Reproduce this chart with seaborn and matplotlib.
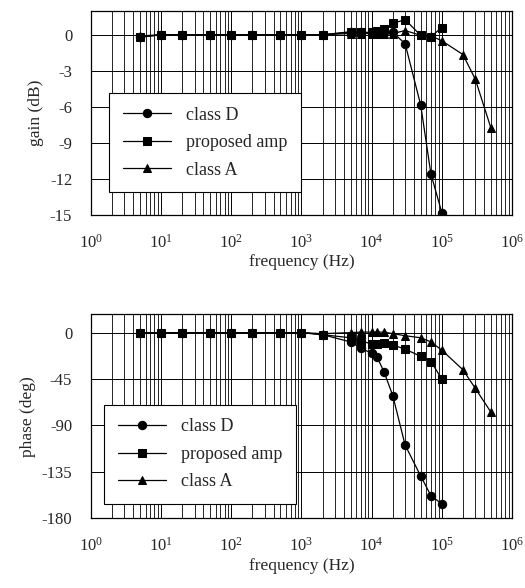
import numpy as np
import pandas as pd
import matplotlib
matplotlib.use("Agg")
import matplotlib.pyplot as plt
import seaborn as sns
from matplotlib.ticker import LogLocator, NullFormatter, FixedLocator

# measured frequencies (Hz)
freq = [5, 10, 20, 50, 100, 200, 500, 1e3, 2e3, 5e3, 7e3, 1e4, 1.2e4, 1.5e4,
        2e4, 3e4, 5e4, 7e4, 1e5]
freq_a = freq + [2e5, 3e5, 5e5]

# gain (dB)
gain_d = [-0.2, 0, 0, 0, 0, 0, 0, 0, 0, 0.25, 0.2, 0.15, 0.15, 0.2,
          0.2, -0.75, -5.85, -11.6, -14.8]
gain_p = [-0.2, 0, 0, 0, 0, 0, 0, 0, 0, 0.2, 0.2, 0.2, 0.3, 0.45,
          0.95, 1.25, -0.05, -0.15, 0.6]
gain_a = [-0.1, 0, 0, 0, 0, 0, 0, 0, 0, 0.1, 0.1, 0.1, 0.1, 0.1,
          0.1, 0.35, -0.05, -0.1, -0.5, -1.65, -3.7, -7.75]

# phase (deg)
phase_d = [0, 0, 0, 0, 0, 0, 0, 0, -2, -9, -15, -20, -24, -38,
           -61, -109, -139, -158, -166]
phase_p = [0, 0, 0, 0, 0, 0, 0, 0, -2, -5, -8, -11, -11, -10,
           -12, -16, -23, -28, -45]
phase_a = [0, 0, 0, 0, 0, 0, 0, 0, -1, 0, 0.5, 0.5, 0.5, 0.5,
           -1, -3, -5, -9, -17, -36, -54, -77]

names = ["class D", "proposed amp", "class A"]


def make_df(vals_d, vals_p, vals_a):
    parts = [
        pd.DataFrame({"freq": freq, "val": vals_d, "series": names[0]}),
        pd.DataFrame({"freq": freq, "val": vals_p, "series": names[1]}),
        pd.DataFrame({"freq": freq_a, "val": vals_a, "series": names[2]}),
    ]
    return pd.concat(parts, ignore_index=True)


sns.set_style("white")
plt.rcParams["font.family"] = ["Liberation Serif", "DejaVu Serif"]
plt.rcParams["mathtext.fontset"] = "stix"

fig = plt.figure(figsize=(5.25, 5.88), dpi=100)
ax1 = fig.add_axes([0.1733, 0.6344, 0.8019, 0.3474])
ax2 = fig.add_axes([0.1733, 0.1185, 0.8019, 0.3474])


def draw(ax, df, yticks, ylim, ylabel, leg_xy):
    sns.lineplot(data=df, x="freq", y="val", style="series", markers=["o", "s", "^"],
                 dashes=False, color="black", lw=0.9, markersize=6,
                 markeredgecolor="black", sort=False, estimator=None, ax=ax)
    ax.set_xscale("log")
    ax.set_xlim(1, 1e6)
    ax.set_ylim(*ylim)
    ax.yaxis.set_major_locator(FixedLocator(yticks))
    ax.set_yticklabels([str(v) for v in yticks])
    ax.xaxis.set_major_locator(LogLocator(base=10, numticks=10))
    ax.xaxis.set_minor_locator(LogLocator(base=10, subs=np.arange(2, 10), numticks=20))
    ax.xaxis.set_minor_formatter(NullFormatter())
    ax.grid(True, which="major", color="black", lw=0.7)
    ax.grid(True, which="minor", axis="x", color="black", lw=0.6)
    for s in ax.spines.values():
        s.set_color("black")
        s.set_linewidth(0.9)
    ax.tick_params(which="major", direction="out", length=9.5, width=0.8,
                   color="black", labelsize=12, pad=4)
    ax.tick_params(which="minor", length=0)
    ax.set_xlabel("frequency (Hz)", fontsize=12.5, labelpad=2)
    ax.set_ylabel(ylabel, fontsize=12.5, labelpad=4)
    leg = ax.legend(loc="upper left", bbox_to_anchor=leg_xy, borderaxespad=0,
                    fontsize=13, frameon=True, fancybox=False, framealpha=1,
                    edgecolor="black", handlelength=2.7, labelspacing=0.58,
                    borderpad=0.75, handletextpad=0.8)
    leg.get_frame().set_linewidth(0.8)


draw(ax1, make_df(gain_d, gain_p, gain_a), [0, -3, -6, -9, -12, -15], (-15, 2),
     "gain (dB)", (0.043, 0.597))
draw(ax2, make_df(phase_d, phase_p, phase_a), [0, -45, -90, -135, -180], (-180, 18),
     "phase (deg)", (0.031, 0.555))

fig.savefig("out.png", dpi=100)
